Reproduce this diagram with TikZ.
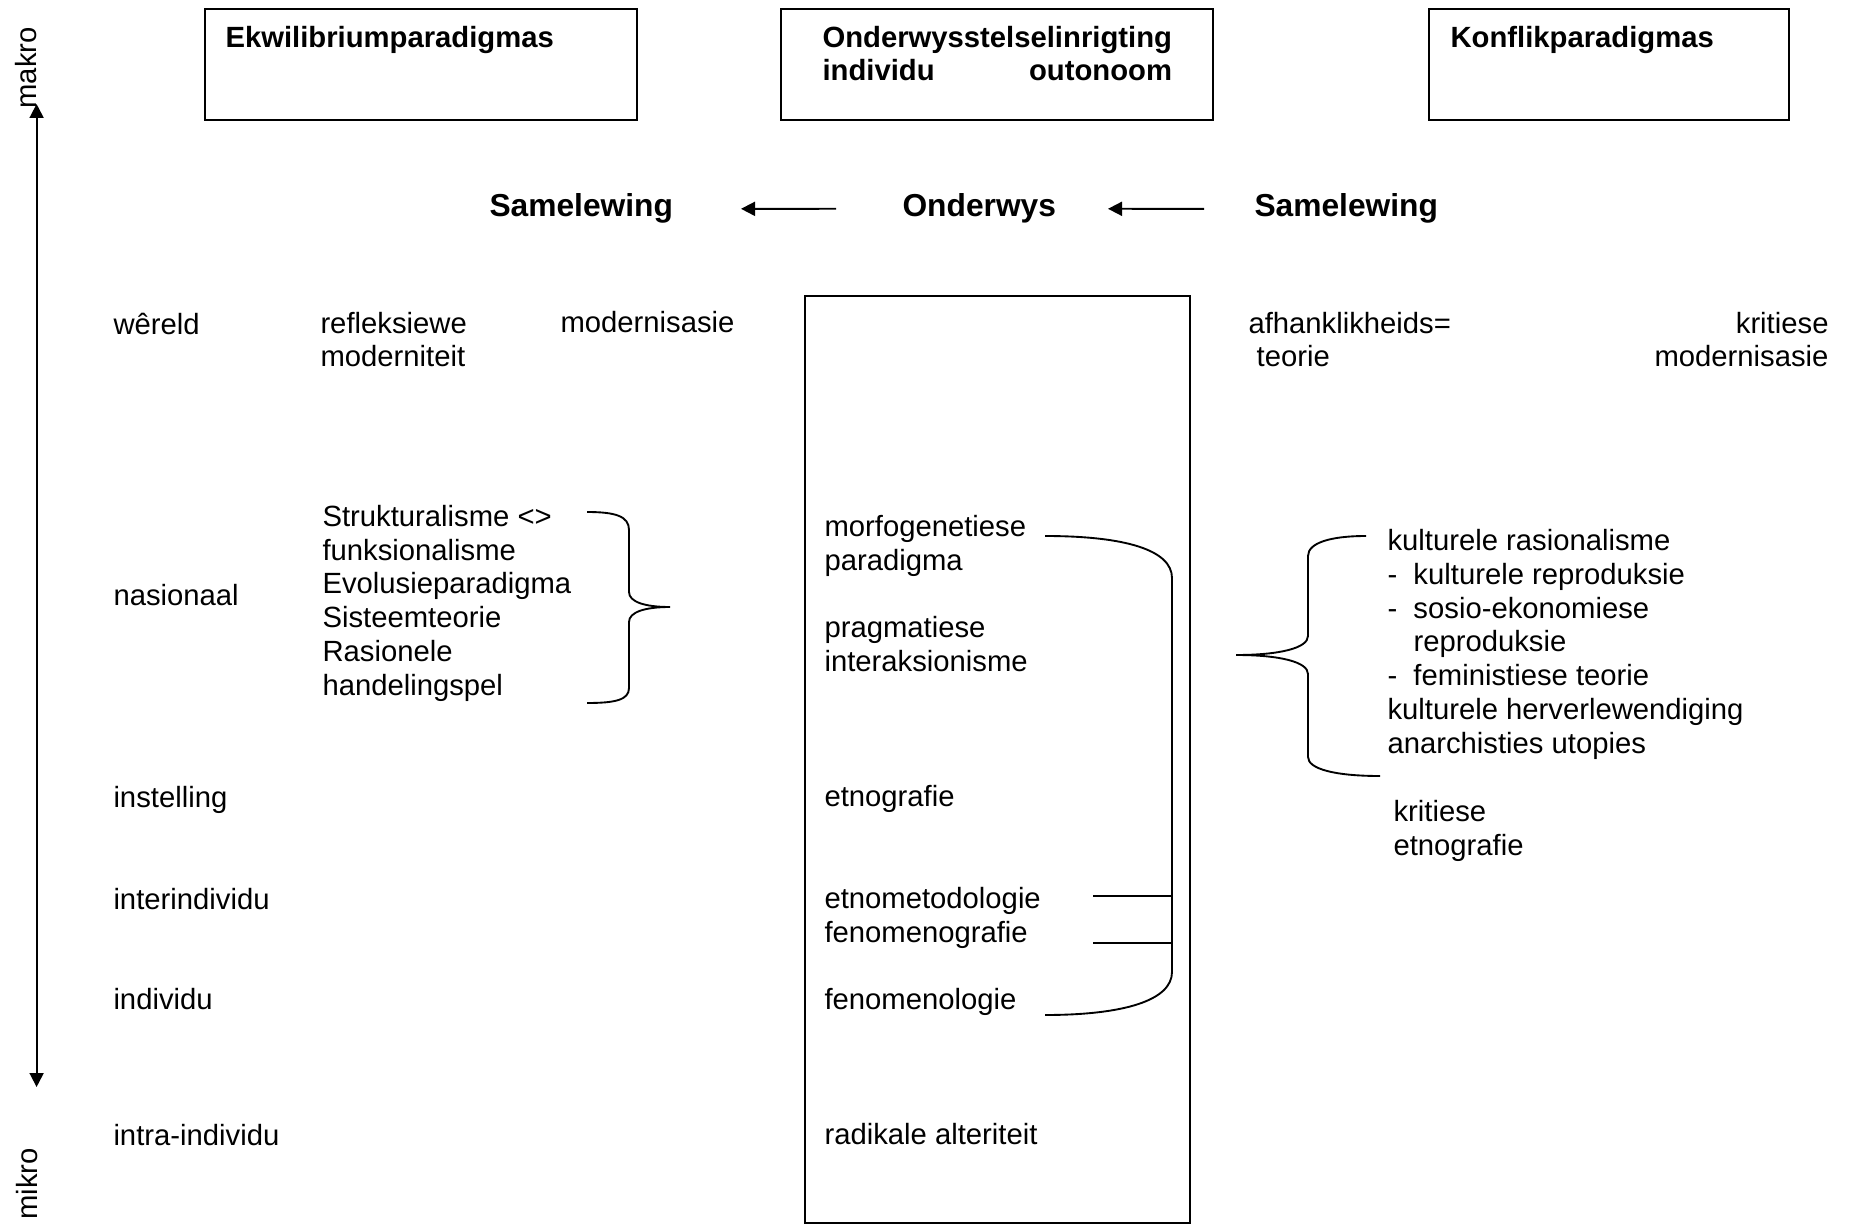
\documentclass[tikz,border=0pt]{standalone}
\usepackage{fontspec}
\setmainfont{Liberation Sans}
\usetikzlibrary{arrows.meta,positioning}
\newcommand{\itm}{\makebox[10.4pt][l]{-}}

\begin{document}
\begin{tikzpicture}[x=0.4pt, y=-0.4pt, >={Triangle[length=5.6pt,width=5.6pt]},
  frame/.style={draw, line width=0.75pt, inner sep=0pt, anchor=north west},
  txt/.style={inner sep=0pt, anchor=base west, align=left, font=\fontsize{11.7}{13.5}\selectfont},
  hd/.style={txt, font=\fontsize{11.7}{13.2}\selectfont\bfseries},
  big/.style={inner sep=0pt, anchor=base west, font=\fontsize{12.7}{15}\selectfont\bfseries},
  vert/.style={inner sep=0pt, rotate=90, font=\fontsize{11.7}{13.5}\selectfont},
  ln/.style={line width=0.75pt}]
\useasboundingbox (0,0) rectangle (1851,1224);

% kopblokke (base = laaste reel)
\node[frame, minimum width=172.8pt, minimum height=44.4pt] (ekwbox) at (204,8) {};
\node[frame, minimum width=172.8pt, minimum height=44.4pt] (ondbox) at (780,8) {};
\node[frame, minimum width=144pt, minimum height=44.4pt] (konbox) at (1428,8) {};
\node[hd] (ekw) at (225,48) {Ekwilibriumparadigmas};
\node[hd] (ond) at (822,81) {Onderwysstelselinrigting\\\makebox[139.8pt]{individu\hfill outonoom}};
\node[hd] (kon) at (1450,48) {Konflikparadigmas};

% samelewing <- onderwys <- samelewing
\node[big] (samL) at (489,217) {Samelewing};
\node[big] (ondw) at (902,217) {Onderwys};
\node[big] (samR) at (1254,217) {Samelewing};
\draw[ln,->,shorten <=26.4pt,shorten >=27pt] (ondw.west) -- (samL.east);
\draw[ln,->,shorten <=20pt,shorten >=20.6pt] (samR.west) -- (ondw.east);

% as makro - mikro
\coordinate (top) at (36.6,104);
\coordinate (bot) at (36.6,1087);
\draw[ln,<->] (bot) -- (top);
\node[vert] (makro) at (26,68) {makro};
\node[vert] (mikro) at (27,1184) {mikro};

% vlakke
\node[txt] (wereld) at (113,335) {wêreld};
\node[txt] (nasion) at (113,605) {nasionaal};
\node[txt] (instel) at (113,807) {instelling};
\node[txt] (inter) at (113,909) {interindividu};
\node[txt] (indiv) at (113,1009) {individu};
\node[txt] (intra) at (113,1145) {intra-individu};

% ekwilibrium
\node[txt] (refl) at (320,367) {refleksiewe\\moderniteit};
\node[txt] (modL) at (560,333) {modernisasie};
\node[txt] (strukt) at (322,695) {Strukturalisme <>\\funksionalisme\\Evolusieparadigma\\Sisteemteorie\\Rasionele\\handelingspel};
\draw[ln] (587,512) .. controls (615,512) and (629,516) .. (629,530) -- (629,592)
  .. controls (629,602) and (645,607) .. (670,607) .. controls (645,607) and (629,612) .. (629,622)
  -- (629,688) .. controls (629,700) and (615,703) .. (587,703);

% onderwys
\node[frame, minimum width=154pt, minimum height=370.8pt] (mid) at (804,295) {};
\node[txt] (morf) at (824,570) {morfogenetiese\\paradigma};
\node[txt] (prag) at (824,671) {pragmatiese\\interaksionisme};
\node[txt] (etno) at (824,806) {etnografie};
\node[txt] (etnom) at (824,942) {etnometodologie\\fenomenografie};
\node[txt] (fenol) at (824,1009) {fenomenologie};
\node[txt] (radik) at (824,1144) {radikale alteriteit};
\draw[ln] (1045,536) .. controls (1125,536) and (1172,550) .. (1172,578) -- (1172,972)
  .. controls (1172,1000) and (1125,1015) .. (1045,1015);
\draw[ln] (1093,896) -- (1172,896);
\draw[ln] (1093,943) -- (1172,943);

% konflik
\node[txt] (afh) at (1248,367) {afhanklikheids=\\\ teorie};
\node[txt, anchor=base east, align=right] (krit) at (1829,367) {kritiese\\modernisasie};
\node[txt] (kult) at (1387,753) {kulturele rasionalisme\\\itm kulturele reproduksie\\\itm sosio-ekonomiese\\\hspace*{10.4pt}reproduksie\\\itm feministiese teorie\\kulturele herverlewendiging\\anarchisties utopies};
\node[txt] (krite) at (1393,855) {kritiese\\etnografie};
\draw[ln] (1366,536) .. controls (1330,536) and (1308,543) .. (1308,556) -- (1308,636)
  .. controls (1308,648) and (1280,655) .. (1236,655) .. controls (1280,655) and (1308,662) .. (1308,674)
  -- (1308,757) .. controls (1308,769) and (1335,776) .. (1380,776);
\end{tikzpicture}
\end{document}
